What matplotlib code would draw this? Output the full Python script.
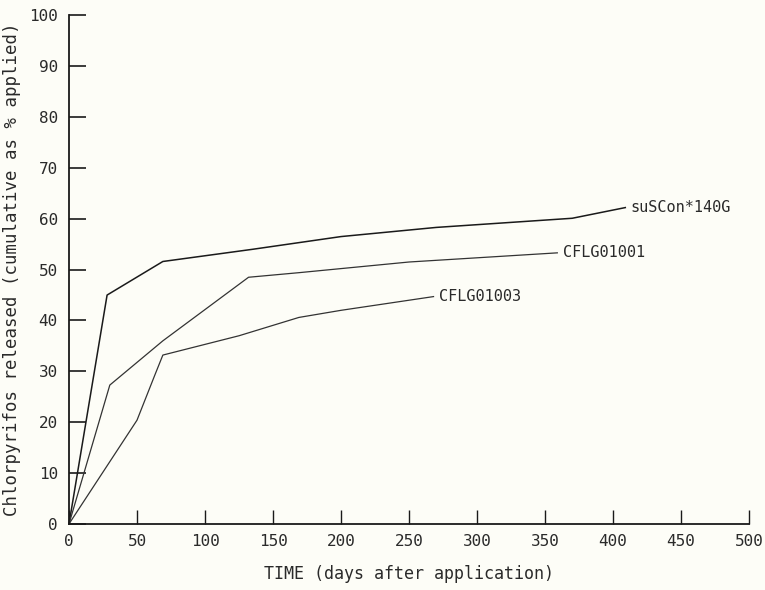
import matplotlib
matplotlib.use("Agg")
import matplotlib.pyplot as plt

# Data (days after application, cumulative % released)
suscon_days = [0, 28, 69, 135, 200, 270, 370, 409]
suscon_vals = [0, 45, 51.6, 54.0, 56.5, 58.3, 60.1, 62.2]

cflg1001_days = [0, 30, 69, 132, 169, 250, 359]
cflg1001_vals = [0, 27.3, 36.0, 48.5, 49.4, 51.5, 53.3]

cflg1003_days = [0, 50, 63, 69, 125, 169, 200, 268]
cflg1003_vals = [0, 20.4, 29.2, 33.2, 37.0, 40.6, 42.0, 44.7]

series_labels = ["suSCon*140G", "CFLG01001", "CFLG01003"]
x_ticks = [0, 50, 100, 150, 200, 250, 300, 350, 400, 450, 500]
y_ticks = [0, 10, 20, 30, 40, 50, 60, 70, 80, 90, 100]

bg = "#fdfdf7"
fig = plt.figure(figsize=(7.65, 5.9), dpi=100, facecolor=bg)
ax = fig.add_axes([0.0902, 0.112, 0.889, 0.862], facecolor=bg)

font = "DejaVu Sans Mono"
lc = "#1a1a1a"
tc = "#2a2a2a"
ax.plot(suscon_days, suscon_vals, color=lc, lw=1.1, clip_on=False)
ax.plot(cflg1001_days, cflg1001_vals, color="#333333", lw=0.9, clip_on=False)
ax.plot(cflg1003_days, cflg1003_vals, color="#333333", lw=0.9, clip_on=False)

ends = [(suscon_days, suscon_vals), (cflg1001_days, cflg1001_vals), (cflg1003_days, cflg1003_vals)]
for (xs, ys), lab in zip(ends, series_labels):
    ax.text(xs[-1] + 4, ys[-1], lab, fontsize=11, family=font, va="center", ha="left", color=tc)

ax.set_xlim(0, 500)
ax.set_ylim(0, 100)
ax.set_xticks(x_ticks)
ax.set_yticks(y_ticks)
ax.set_xticklabels([str(t) for t in x_ticks], family=font, fontsize=11.5, color=tc)
ax.set_yticklabels([str(t) for t in y_ticks], family=font, fontsize=11.5, color=tc)
ax.tick_params(axis="y", direction="in", length=12, width=1.2, pad=8, color=lc)
ax.tick_params(axis="x", direction="in", length=10, width=1.0, pad=7, color=lc)
for s in ["top", "right"]:
    ax.spines[s].set_visible(False)
for s in ["left", "bottom"]:
    ax.spines[s].set_linewidth(1.3)
    ax.spines[s].set_color(lc)

ax.set_xlabel("TIME (days after application)", family=font, fontsize=12, labelpad=12, color=tc)
ax.set_ylabel("Chlorpyrifos released (cumulative as % applied)", family=font, fontsize=12.5, labelpad=6, color=tc)

fig.savefig("out.png", dpi=100, facecolor=bg)
